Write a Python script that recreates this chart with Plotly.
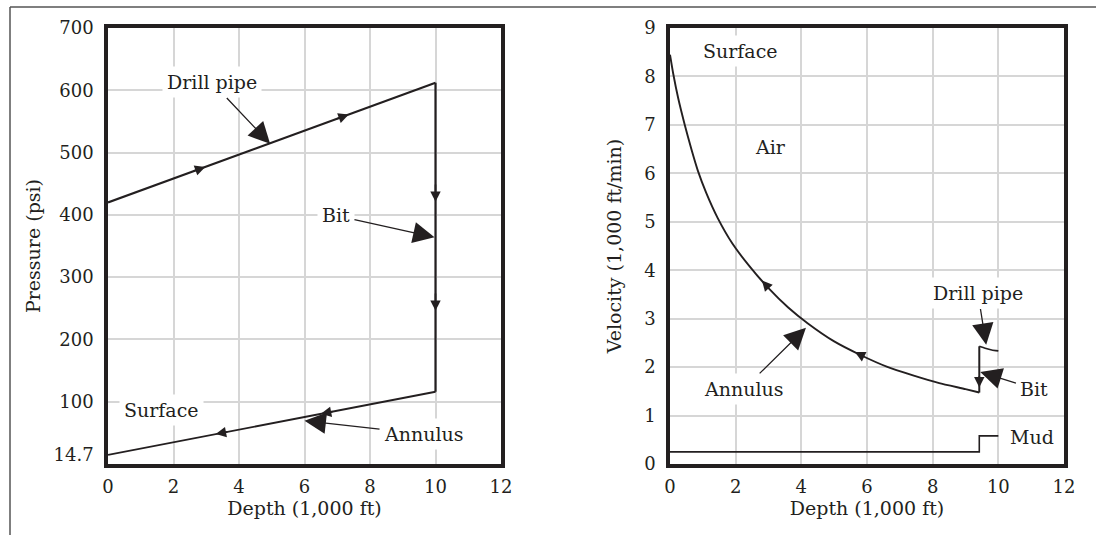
import numpy as np
import plotly.graph_objects as go

# ---------------- data: left panel (pressure) ----------------
dp_depth = [0, 10]
dp_press = [420, 612]
bit_depth = [10, 10]
bit_press = [612, 116]
an_depth = [10, 0]
an_press = [116, 14.7]

p_tickvals = [14.7, 100, 200, 300, 400, 500, 600, 700]
p_ticktext = ["14.7", "100", "200", "300", "400", "500", "600", "700"]
p_grid = [100, 200, 300, 400, 500, 600]
depth_ticks = [0, 2, 4, 6, 8, 10, 12]

# ---------------- data: right panel (velocity) ----------------
air_depth = [0.0, 0.1, 0.25, 0.45, 0.65, 0.85, 1.1, 1.45, 1.9, 2.4, 3.0, 3.6, 4.2,
             5.0, 5.8, 6.6, 7.4, 8.2, 9.0, 9.42]
air_vel = [8.45, 8.05, 7.55, 7.0, 6.5, 6.05, 5.6, 5.08, 4.55, 4.10, 3.63, 3.23, 2.9,
           2.53, 2.25, 2.01, 1.83, 1.67, 1.545, 1.475]
bitv_depth = [9.42, 9.42]
bitv_vel = [2.43, 1.475]
dpv_depth = [9.42, 9.6, 9.8, 10.0]
dpv_vel = [2.43, 2.39, 2.355, 2.335]
mud_depth = [0, 9.42, 9.42, 10]
mud_vel = [0.25, 0.25, 0.58, 0.58]
v_ticks = [0, 1, 2, 3, 4, 5, 6, 7, 8, 9]

INK = "#231f20"
GRID = "#d6d6d6"
FONT = "DejaVu Serif"

fig = go.Figure()

def line(x, y, xa, ya, w=2.0, shape="linear"):
    fig.add_trace(go.Scatter(x=x, y=y, mode="lines", xaxis=xa, yaxis=ya,
                             line=dict(color=INK, width=w, shape=shape, smoothing=0.5),
                             hoverinfo="skip", showlegend=False))

line(dp_depth, dp_press, "x", "y", 2.2)
line(bit_depth, bit_press, "x", "y", 2.2)
line(an_depth, an_press, "x", "y", 1.8)

line(air_depth, air_vel, "x2", "y2", 1.9, "spline")
line(bitv_depth, bitv_vel, "x2", "y2", 2.0)
line(dpv_depth, dpv_vel, "x2", "y2", 1.6, "spline")
line(mud_depth, mud_vel, "x2", "y2", 1.6)

annotations = []

def flow(xr, yr, x, y, ax, ay):
    annotations.append(dict(x=x, y=y, ax=ax, ay=ay, xref=xr, yref=yr, axref=xr, ayref=yr,
                            text="", showarrow=True, arrowhead=2, arrowsize=1.3,
                            arrowwidth=1.6, arrowcolor=INK))

def label(xr, yr, text, tx, ty, hx=None, hy=None):
    d = dict(text=text, xref=xr, yref=yr, font=dict(family=FONT, size=19, color=INK),
             bgcolor="white", borderpad=4)
    if hx is None:
        d.update(x=tx, y=ty, showarrow=False)
    else:
        d.update(x=hx, y=hy, ax=tx, ay=ty, axref=xr, ayref=yr, showarrow=True,
                 arrowhead=2, arrowsize=3.3, arrowwidth=1.3, arrowcolor=INK)
    annotations.append(d)

# left flow arrows
for hx in [2.97, 7.35]:
    flow("x", "y", hx, np.interp(hx, dp_depth, dp_press),
         hx - 0.4, np.interp(hx - 0.4, dp_depth, dp_press))
for hy in [421, 246]:
    flow("x", "y", bit_depth[0], hy, bit_depth[0], hy + 30)
an_x = an_depth[::-1]
an_y = an_press[::-1]
for hx in [6.5, 3.29]:
    flow("x", "y", hx, np.interp(hx, an_x, an_y), hx + 0.4, np.interp(hx + 0.4, an_x, an_y))

# right flow arrows
for hx in [2.8, 5.63]:
    flow("x2", "y2", hx, np.interp(hx, air_depth, air_vel),
         hx + 0.25, np.interp(hx + 0.25, air_depth, air_vel))
flow("x2", "y2", bitv_depth[0], 1.58, bitv_depth[0], 1.85)

# labels
label("x", "y", "Drill pipe", 3.18, 612.5, 4.95, 514)
label("x", "y", "Bit", 6.96, 399, 9.97, 364)
label("x", "y", "Surface", 1.63, 87.5)
label("x", "y", "Annulus", 9.65, 48, 6.0, 69.5)

label("x2", "y2", "Surface", 2.16, 8.52)
label("x2", "y2", "Air", 3.05, 6.54)
label("x2", "y2", "Drill pipe", 9.38, 3.52, 9.63, 2.46)
label("x2", "y2", "Bit", 11.1, 1.55, 9.45, 1.9)
label("x2", "y2", "Annulus", 2.25, 1.55, 4.14, 2.81)
label("x2", "y2", "Mud", 11.03, 0.55)

W, H = 1096, 535
dom_y = [1 - 464 / H, 1 - 28 / H]
dom_x1 = [108 / W, 501 / W]
dom_x2 = [670 / W, 1064 / W]

tickfont = dict(family=FONT, size=18, color=INK)
titlefont = dict(family=FONT, size=19, color=INK)

def xax(domain, anchor):
    return dict(domain=domain, anchor=anchor, range=[0, 12], tickvals=depth_ticks,
                showgrid=True, gridcolor=GRID, gridwidth=1.5, zeroline=False,
                showline=True, mirror=True, linecolor=INK, linewidth=3.5,
                ticks="outside", ticklen=4, tickcolor="rgba(0,0,0,0)", automargin=False,
                tickfont=tickfont, title=dict(text="Depth (1,000 ft)", font=titlefont, standoff=0))

fig.update_layout(
    width=W, height=H, margin=dict(l=0, r=0, t=0, b=0, autoexpand=False),
    plot_bgcolor="white", paper_bgcolor="white",
    xaxis=xax(dom_x1, "y"),
    xaxis2=xax(dom_x2, "y2"),
    yaxis=dict(domain=dom_y, anchor="x", range=[0, 700], tickvals=p_tickvals,
               ticktext=p_ticktext, showgrid=False, zeroline=False,
               minor=dict(tickvals=p_grid, showgrid=True, gridcolor=GRID, gridwidth=1.5, ticks=""),
               showline=True, mirror=True, linecolor=INK, linewidth=3.5,
               ticks="outside", ticklen=7, tickcolor="rgba(0,0,0,0)", automargin=False,
               tickfont=tickfont, title=dict(text="Pressure (psi)", font=titlefont, standoff=9)),
    yaxis2=dict(domain=dom_y, anchor="x2", range=[0, 9], tickvals=v_ticks,
                showgrid=True, gridcolor=GRID, gridwidth=1.5, zeroline=False,
                showline=True, mirror=True, linecolor=INK, linewidth=3.5,
                ticks="outside", ticklen=7, tickcolor="rgba(0,0,0,0)", automargin=False,
                tickfont=tickfont, title=dict(text="Velocity (1,000 ft/min)", font=titlefont, standoff=19)),
    annotations=annotations,
    shapes=[
        dict(type="line", xref="paper", yref="paper", x0=10 / W, x1=1, y0=1 - 7 / H, y1=1 - 7 / H,
             line=dict(color="#555555", width=1.5)),
        dict(type="line", xref="paper", yref="paper", x0=10 / W, x1=10 / W, y0=0, y1=1 - 7 / H,
             line=dict(color="#555555", width=1.5)),
    ],
)

fig.write_html("out.html")
